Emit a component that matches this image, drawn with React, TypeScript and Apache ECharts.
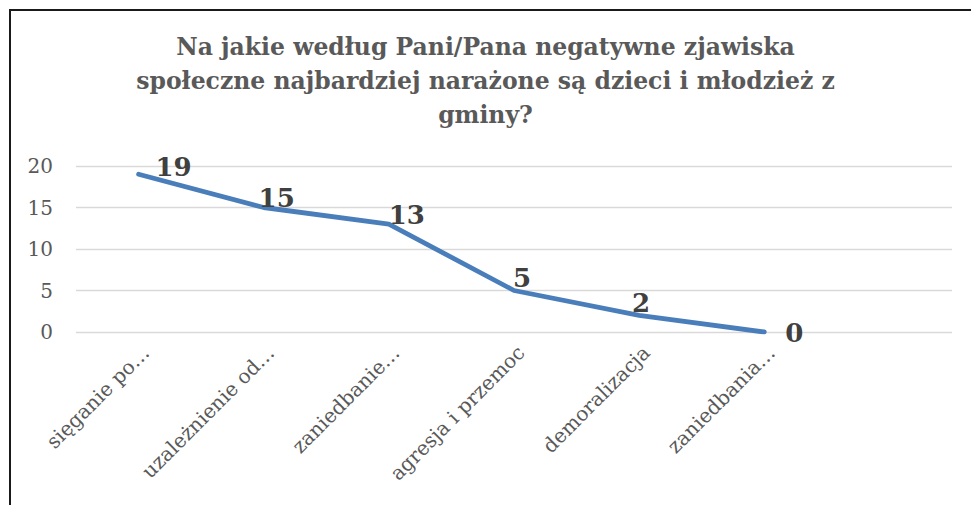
import React, { useEffect, useRef } from "react";
import * as echarts from "echarts";

const titleLines = [
  "Na jakie według Pani/Pana negatywne zjawiska",
  "społeczne najbardziej narażone są dzieci i młodzież z",
  "gminy?",
];
const categories = [
  "sięganie po…",
  "uzależnienie od…",
  "zaniedbanie…",
  "agresja i przemoc",
  "demoralizacja",
  "zaniedbania…",
  "",
];
const values: (number | null)[] = [19, 15, 13, 5, 2, 0, null];
const yTicks = { min: 0, max: 20, interval: 5 };
// label nudges (style only)
const labelOffsets: [number, number][] = [
  [35, -7],
  [13, -10],
  [18, -9],
  [8, -13],
  [2, -12],
  [30, 1],
  [0, 0],
];

const SERIF = "'DejaVu Serif', 'Liberation Serif', serif";

export default function App() {
  const ref = useRef<HTMLDivElement>(null);
  useEffect(() => {
    if (!ref.current) return;
    const chart = echarts.init(ref.current, undefined, { renderer: "svg" });
    chart.setOption({
      animation: false,
      backgroundColor: "#ffffff",
      title: {
        text: titleLines.join("\n"),
        left: "center",
        top: 25,
        textStyle: {
          fontFamily: SERIF,
          fontWeight: "bold",
          fontSize: 23.5,
          color: "#595959",
          lineHeight: 34,
        },
      },
      graphic: [
        {
          type: "rect",
          shape: { x: 10, y: 10, width: 1000, height: 600 },
          style: { fill: "none", stroke: "#1a1a1a", lineWidth: 2 },
          silent: true,
        },
      ],
      grid: { left: 76, right: 19, top: 166, height: 166, containLabel: false },
      xAxis: {
        type: "category",
        data: categories,
        boundaryGap: true,
        axisLine: { show: false },
        axisTick: { show: false },
        axisLabel: {
          interval: 0,
          rotate: 45,
          margin: 10,
          verticalAlign: "top",
          fontFamily: SERIF,
          fontSize: 20,
          color: "#595959",
        },
      },
      yAxis: {
        type: "value",
        min: yTicks.min,
        max: yTicks.max,
        interval: yTicks.interval,
        axisLine: { show: false },
        axisTick: { show: false },
        axisLabel: {
          margin: 23,
          fontFamily: SERIF,
          fontSize: 20,
          color: "#595959",
        },
        splitLine: { lineStyle: { color: "#d9d9d9", width: 1.3 } },
      },
      series: [
        {
          type: "line",
          data: values.map((v, i) => ({
            value: v,
            label: { offset: labelOffsets[i] },
          })),
          symbol: "circle",
          symbolSize: 1,
          showSymbol: true,
          lineStyle: { color: "#4a7ebb", width: 4.8, cap: "round", join: "round" },
          itemStyle: { color: "#4a7ebb" },
          connectNulls: false,
          label: {
            show: true,
            position: "inside",
            fontFamily: SERIF,
            fontWeight: "bold",
            fontSize: 26,
            color: "#404040",
          },
        },
      ],
    });
    return () => chart.dispose();
  }, []);
  return (
    <div
      ref={ref}
      style={{ position: "absolute", left: 0, top: 0, width: 971, height: 505 }}
    />
  );
}
